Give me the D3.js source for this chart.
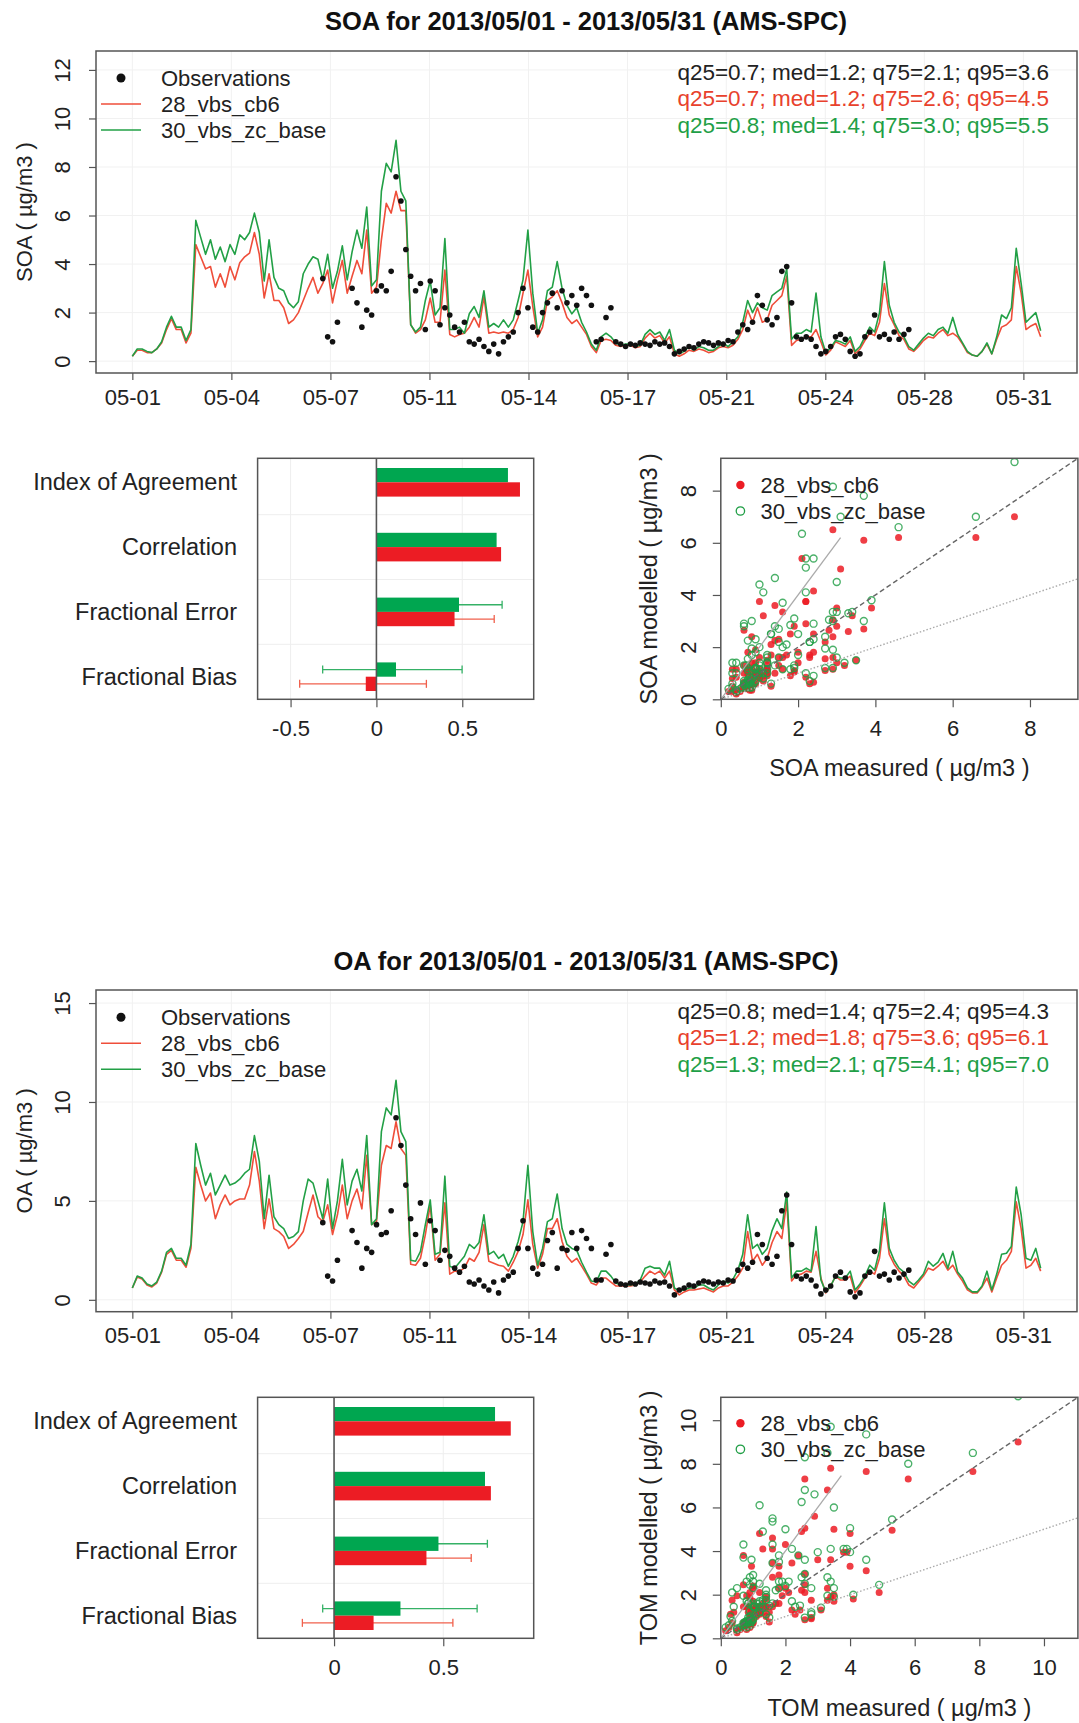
<!DOCTYPE html>
<html>
<head>
<meta charset="utf-8">
<script src="https://cdn.jsdelivr.net/npm/d3@7"></script>
<style>
  body { margin: 0; background: #fff; }
  svg { display: block; }
</style>
</head>
<body>
<script>
// ---- data -------------------------------------------------------------
// model and observation series on a 4-hourly grid starting 2013-05-01 00:00
const startTime = Date.UTC(2013, 4, 1);
const stepHours = 4;
const obsStartStep = 39;   // observations begin 2013-05-07 12:00

const seriesNames = ["28_vbs_cb6", "30_vbs_zc_base"];

const soaCb6 = [
  0.2,0.45,0.45,0.35,0.35,0.5, 0.75,1.3,1.75,1.3,1.3,0.75, 1.15,4.8,4.3,3.8,3.9,3.05,
  3.6,3.05,3.9,3.35,4.05,4.3, 4.45,5.3,4.4,2.6,3.6,2.5, 2.5,2.2,1.55,1.7,2.0,2.5,
  3.0,3.45,2.8,3.2,3.75,2.4, 3.35,4.15,2.8,3.5,4.15,3.6, 5.4,2.8,3.05,5.0,6.5,6.1,
  7.0,6.2,6.2,1.5,1.15,1.3, 1.7,2.6,1.6,1.6,3.75,1.1, 1.0,1.1,1.15,1.4,1.8,1.4,
  2.65,1.15,1.2,1.15,1.2,1.15, 1.3,1.8,2.8,3.75,2.25,1.0, 1.4,2.5,2.65,2.9,2.4,1.8,
  1.55,1.7,1.4,1.1,0.6,0.35, 0.85,0.9,0.85,0.65,0.6,0.65, 0.65,0.55,0.6,0.95,1.15,0.95,
  1.05,0.75,1.0,0.3,0.2,0.3, 0.45,0.4,0.5,0.45,0.35,0.4, 0.55,0.6,0.55,0.65,0.9,1.3,
  2.1,1.6,2.2,1.6,1.7,2.3, 2.5,2.7,3.5,0.65,0.85,0.9, 1.0,1.0,1.3,0.8,0.25,0.45,
  0.8,0.7,0.6,0.85,0.3,0.5, 0.85,1.15,1.05,1.6,3.2,1.9, 1.5,1.05,0.9,0.5,0.4,0.6,
  0.85,1.0,0.95,1.15,1.3,1.05, 1.15,1.0,0.7,0.35,0.25,0.2, 0.4,0.7,0.3,0.9,1.4,1.5,
  1.7,3.9,2.8,1.3,1.45,1.55, 1.0
];
const soaZc = [
  0.2,0.5,0.5,0.4,0.35,0.5, 0.8,1.4,1.85,1.4,1.4,0.85, 1.3,5.8,5.1,4.4,5.0,4.2,
  4.7,4.1,4.8,4.4,5.2,5.0, 5.3,6.1,5.3,3.3,5.0,3.45, 3.0,2.9,2.4,2.2,2.45,3.6,
  4.0,4.3,4.2,3.35,4.4,3.0, 3.7,4.75,3.35,4.5,5.4,4.65, 6.35,3.1,3.35,7.0,8.15,7.8,
  9.1,7.0,6.6,1.5,1.2,1.4, 2.5,3.3,1.9,2.2,5.05,1.3, 1.3,1.4,1.15,1.95,2.25,1.8,
  2.9,1.4,1.55,1.4,1.7,1.4, 1.7,2.5,3.35,5.4,2.8,1.15, 1.7,2.9,3.05,4.1,3.0,2.3,
  1.95,2.2,1.6,1.2,0.7,0.45, 1.0,1.15,1.0,0.75,0.65,0.7, 0.7,0.6,0.65,1.1,1.3,1.1,
  1.2,0.85,1.3,0.45,0.3,0.4, 0.6,0.45,0.6,0.55,0.45,0.45, 0.6,0.75,0.6,0.8,1.0,1.6,
  2.5,2.0,2.4,2.2,2.1,2.7, 2.85,3.0,3.8,0.9,1.15,1.15, 1.3,1.2,2.8,1.0,0.35,0.55,
  0.85,0.8,0.7,1.0,0.4,0.6, 1.0,1.4,1.2,2.0,4.1,2.3, 1.6,1.2,1.0,0.6,0.45,0.7,
  0.95,1.15,1.05,1.3,1.4,1.15, 1.8,1.1,0.75,0.4,0.25,0.2, 0.4,0.75,0.3,1.0,1.9,1.75,
  2.2,4.65,3.2,1.6,1.8,2.0, 1.25
];
const soaObs = [
  3.4,1.0,0.8,
  1.6,null,null,3.0,2.4,1.4, 2.1,1.9,2.9,3.1,2.9,3.7, 7.6,6.6,4.6,3.5,2.9,3.2,
  1.3,3.3,2.9,1.5,2.2,1.9, 1.4,1.2,1.6,0.8,0.7,0.9, 0.6,0.4,0.7,0.3,0.8,1.0,
  1.2,2.0,3.0,2.2,1.4,1.2, 2.0,2.4,2.8,2.2,2.9,2.4, 2.7,2.3,3.0,2.7,2.3,0.8,
  0.9,1.8,2.2,0.8,0.7,0.6, 0.7,0.65,0.75,0.7,0.65,0.8, 0.7,0.75,0.6,0.3,0.4,0.5,
  0.6,0.55,0.7,0.8,0.75,0.65, 0.75,0.7,0.85,0.8,1.2,1.5, 1.3,1.6,2.7,2.3,1.7,1.5,
  1.8,3.7,3.9,2.4,1.0,0.9, 1.0,0.9,0.6,0.3,0.4,0.6, 1.0,1.1,0.9,0.4,0.2,0.3,
  1.0,1.2,1.9,1.0,1.1,0.9, 1.2,0.9,1.1,1.3
];

const oaCb6 = [
  0.6,1.15,1.05,0.75,0.65,0.85, 1.4,2.3,2.5,2.0,2.0,1.65, 2.6,6.7,5.8,5.0,5.4,4.1,
  4.8,5.3,4.8,5.0,5.1,5.1, 5.8,7.5,6.0,3.6,5.1,3.6, 3.45,3.2,2.6,2.8,3.1,3.45,
  4.4,5.3,4.2,3.95,4.8,3.3, 4.3,5.8,4.1,5.0,5.6,4.6, 7.3,3.8,3.95,6.8,7.8,7.65,
  9.0,7.65,7.3,1.8,1.75,2.1, 3.3,4.8,2.0,2.3,4.9,1.3, 1.45,1.45,1.6,2.1,1.95,2.4,
  3.8,1.95,1.85,1.75,1.7,1.45, 1.9,2.45,3.3,5.05,2.8,1.6, 2.3,3.6,3.6,4.1,2.95,2.2,
  1.9,2.1,1.7,1.3,0.85,0.75, 1.1,1.1,0.9,0.7,0.7,0.7, 0.7,0.75,0.9,1.2,1.45,1.3,
  1.45,1.1,1.45,0.5,0.25,0.4, 0.5,0.5,0.55,0.6,0.5,0.4, 0.6,0.7,0.7,0.9,1.2,1.6,
  3.45,1.95,2.3,1.75,2.1,2.9, 3.45,3.1,4.95,0.95,1.25,1.3, 1.45,1.4,2.45,1.1,0.35,0.7,
  1.2,1.0,1.0,1.2,0.35,0.7, 1.1,1.45,1.3,2.1,4.1,2.3, 1.8,1.45,1.2,0.75,0.6,0.9,
  1.2,1.6,1.5,1.7,1.95,1.5, 1.75,1.3,0.95,0.5,0.35,0.35, 0.65,1.1,0.4,1.1,1.75,2.0,
  2.45,4.95,3.6,1.6,1.75,2.1, 1.45
];
const oaZc = [
  0.6,1.2,1.1,0.8,0.7,0.9, 1.45,2.4,2.6,2.1,2.1,1.75, 2.8,7.9,6.8,5.8,6.4,5.3,
  5.8,6.3,5.8,5.9,6.1,6.4, 6.6,8.3,7.0,4.1,6.3,4.2, 3.8,3.6,3.1,3.2,3.45,5.0,
  6.1,5.9,5.0,4.1,6.1,3.6, 5.0,7.1,4.8,6.0,6.6,5.5, 8.3,3.8,4.1,8.5,9.7,9.35,
  11.1,8.5,8.0,2.0,1.95,2.45, 3.8,5.05,2.3,2.4,6.25,1.7, 1.6,1.9,2.2,2.8,2.6,2.9,
  4.3,2.3,2.45,2.1,2.3,1.7, 2.2,2.95,3.95,6.8,3.45,1.75, 2.6,3.95,4.1,5.35,3.6,2.8,
  2.6,2.5,1.9,1.4,0.95,0.9, 1.45,1.45,1.2,0.85,0.75,0.75, 0.75,0.8,1.0,1.6,1.7,1.6,
  1.6,1.25,1.95,0.6,0.45,0.5, 0.6,0.6,0.75,0.75,0.6,0.5, 0.75,0.95,0.85,1.05,1.5,2.3,
  4.3,2.6,2.8,2.3,2.6,3.5, 4.1,3.6,5.45,1.1,1.45,1.45, 1.6,1.45,3.7,1.0,0.4,0.7,
  1.2,1.1,1.1,1.45,0.5,0.8, 1.2,1.75,1.5,2.5,4.9,2.6, 2.0,1.6,1.4,0.95,0.75,1.0,
  1.3,1.95,1.7,1.9,2.35,1.6, 2.45,1.4,1.1,0.6,0.4,0.4, 0.7,1.45,0.5,1.3,2.3,2.35,
  2.7,5.7,4.3,2.1,2.0,2.6, 1.6
];
const oaObs = [
  3.9,1.2,0.95,
  2.0,null,null,3.5,2.9,1.6, 2.6,2.4,3.8,3.3,3.4,4.5, 9.2,7.8,5.8,4.1,3.3,4.9,
  1.8,4.0,3.5,2.0,2.5,2.2, 1.6,1.4,1.7,0.9,0.8,1.0, 0.7,0.5,0.9,0.35,1.0,1.2,
  1.4,2.6,4.0,2.6,1.6,1.3, 1.8,3.0,3.4,1.6,2.6,2.5, 3.4,2.6,3.5,3.1,2.6,1.0,
  1.0,2.3,2.8,0.95,0.8,0.75, 0.85,0.8,0.9,0.85,0.8,0.95, 0.85,0.9,0.7,0.25,0.5,0.6,
  0.75,0.7,0.85,0.95,0.9,0.8, 0.9,0.85,1.0,0.95,1.5,1.8, 1.6,1.9,3.3,2.8,2.1,1.8,
  2.2,4.5,5.3,2.8,1.2,1.05, 1.2,1.0,0.7,0.3,0.5,0.7, 1.2,1.4,1.1,0.4,0.15,0.35,
  1.2,1.4,2.45,1.2,1.3,1.0, 1.4,1.1,1.3,1.5
];

const soaQuantiles = [
  "q25=0.7; med=1.2; q75=2.1; q95=3.6",
  "q25=0.7; med=1.2; q75=2.6; q95=4.5",
  "q25=0.8; med=1.4; q75=3.0; q95=5.5"
];
const oaQuantiles = [
  "q25=0.8; med=1.4; q75=2.4; q95=4.3",
  "q25=1.2; med=1.8; q75=3.6; q95=6.1",
  "q25=1.3; med=2.1; q75=4.1; q95=7.0"
];

const statCategories = ["Index of Agreement", "Correlation", "Fractional Error", "Fractional Bias"];
const soaStatCb6 = [0.836, 0.726, 0.455, -0.062];
const soaStatZc  = [0.766, 0.700, 0.481, 0.114];
const soaErrCb6  = [null, null, [0.224, 0.686], [-0.447, 0.291]];
const soaErrZc   = [null, null, [0.230, 0.732], [-0.313, 0.499]];
const oaStatCb6  = [0.809, 0.718, 0.423, 0.181];
const oaStatZc   = [0.737, 0.691, 0.478, 0.304];
const oaErrCb6   = [null, null, [0.218, 0.628], [-0.145, 0.544]];
const oaErrZc    = [null, null, [0.254, 0.702], [-0.052, 0.655]];

const timeTickDays   = [0, 3.38, 6.76, 10.14, 13.52, 16.9, 20.27, 23.65, 27.03, 30.41];
const timeTickLabels = ["05-01","05-04","05-07","05-11","05-14","05-17","05-21","05-24","05-28","05-31"];
const soaTicks = [0, 2, 4, 6, 8, 10, 12];
const oaTicks = [0, 5, 10, 15];
const soaBarTicks = [-0.5, 0, 0.5];
const oaBarTicks = [0, 0.5];
const soaScatterTicks = [0, 2, 4, 6, 8];
const oaScatterTicks = [0, 2, 4, 6, 8, 10];

// ---- drawing ----------------------------------------------------------
const W = 1079, H = 1723;
const FONT = "'Liberation Sans', Arial, Helvetica, sans-serif";
const textCol = "#222", boxCol = "#555";
const lineRed = "#ef4e3a", lineGreen = "#22a046";
const txtRed = "#e8412c", txtGreen = "#1f9f47";
const barRed = "#ec1c24", barGreen = "#00a650";
const whiskRed = "#f0604c", whiskGreen = "#35b166";
const DAY = 864e5;

const svg = d3.select("body").append("svg")
  .attr("width", W).attr("height", H)
  .attr("font-family", FONT);

function stepTime(i) { return new Date(startTime + i * stepHours * 3600e3); }

function styleAxis(g) {
  g.attr("font-family", FONT).attr("font-size", 22);
  g.select(".domain").remove();
  g.selectAll(".tick line").attr("stroke", boxCol).attr("stroke-width", 1.2);
  g.selectAll(".tick text").attr("fill", textCol);
}
function xAxisAt(g, axis, y, off) {
  g.append("g").attr("transform", `translate(0,${y})`).call(axis).call(styleAxis)
    .selectAll(".tick text").attr("y", off).attr("dy", 0);
}
function yAxisAt(g, axis, x, off) {
  g.append("g").attr("transform", `translate(${x},0)`).call(axis).call(styleAxis)
    .selectAll(".tick text")
    .attr("transform", "rotate(-90)").attr("x", 0).attr("y", -off).attr("dy", 0)
    .attr("text-anchor", "middle");
}
function frame(g, l, t, r, b) {
  g.append("rect").attr("x", l).attr("y", t).attr("width", r - l).attr("height", b - t)
    .attr("fill", "none").attr("stroke", boxCol).attr("stroke-width", 1.5);
}

// time series panel
function timePanel(o) {
  const g = svg.append("g");
  const L = 96, R = 1077;
  const x = d3.scaleUtc()
    .domain([new Date(startTime - 1.24 * DAY), new Date(startTime + 32.24 * DAY)])
    .range([L, R]);
  const y = d3.scaleLinear().domain(o.yDomain).range([o.bottom, o.top]);
  const tickDates = timeTickDays.map(d => new Date(startTime + d * DAY));

  g.append("text").attr("x", 586).attr("y", o.titleY).attr("text-anchor", "middle")
    .attr("font-size", 25.5).attr("font-weight", "bold").attr("fill", "#111").text(o.title);

  // faint grid
  g.append("g").selectAll("line").data(o.yTicks).join("line")
    .attr("x1", L).attr("x2", R).attr("y1", d => y(d)).attr("y2", d => y(d))
    .attr("stroke", "#f1f1f1");
  g.append("g").selectAll("line").data(tickDates).join("line")
    .attr("x1", d => x(d)).attr("x2", d => x(d)).attr("y1", o.top).attr("y2", o.bottom)
    .attr("stroke", "#f1f1f1");

  const line = d3.line().x((d, i) => x(stepTime(i))).y(d => y(d));
  g.append("path").datum(o.cb6).attr("d", line).attr("fill", "none")
    .attr("stroke", lineRed).attr("stroke-width", 1.6).attr("stroke-linejoin", "round");
  g.append("path").datum(o.zc).attr("d", line).attr("fill", "none")
    .attr("stroke", lineGreen).attr("stroke-width", 1.6).attr("stroke-linejoin", "round");

  const obs = o.obs.map((v, i) => ({ t: stepTime(obsStartStep + i), v })).filter(d => d.v != null);
  g.append("g").selectAll("circle").data(obs).join("circle")
    .attr("cx", d => x(d.t)).attr("cy", d => y(d.v)).attr("r", 2.8).attr("fill", "#111");

  frame(g, L, o.top, R, o.bottom);
  xAxisAt(g, d3.axisBottom(x).tickValues(tickDates).tickFormat((d, i) => timeTickLabels[i]).tickSize(7),
    o.bottom, o.xLabOff);
  yAxisAt(g, d3.axisLeft(y).tickValues(o.yTicks).tickSize(7), L, 26);

  g.append("text").attr("transform", `translate(32,${(o.top + o.bottom) / 2}) rotate(-90)`)
    .attr("text-anchor", "middle").attr("font-size", 22).attr("fill", textCol).text(o.yLabel);

  // legend
  const lg = g.append("g").attr("font-size", 22).attr("fill", textCol);
  lg.append("circle").attr("cx", 121).attr("cy", o.legY).attr("r", 4.5).attr("fill", "#111");
  lg.append("line").attr("x1", 101).attr("x2", 141).attr("y1", o.legY + 26).attr("y2", o.legY + 26)
    .attr("stroke", lineRed).attr("stroke-width", 1.6);
  lg.append("line").attr("x1", 101).attr("x2", 141).attr("y1", o.legY + 52).attr("y2", o.legY + 52)
    .attr("stroke", lineGreen).attr("stroke-width", 1.6);
  ["Observations"].concat(seriesNames).forEach((s, i) => {
    lg.append("text").attr("x", 161).attr("y", o.legY + 7.7 + 26 * i).text(s);
  });
  const cols = [textCol, txtRed, txtGreen];
  o.quant.forEach((s, i) => {
    g.append("text").attr("x", 1049).attr("y", o.quantY + 26.5 * i).attr("text-anchor", "end")
      .attr("font-size", 22.5).attr("fill", cols[i]).text(s);
  });
}

// statistics bar panel
function barPanel(o) {
  const g = svg.append("g");
  const L = 257.6, R = 533.7;
  const x = d3.scaleLinear().domain(o.xDomain).range([L, R]);
  const y = d3.scalePoint().domain(statCategories).range([o.top + 24, o.bottom - 22.6]);
  const bh = 14.3;

  // faint grid
  g.append("g").selectAll("line").data(o.ticks.filter(t => t !== 0)).join("line")
    .attr("x1", d => x(d)).attr("x2", d => x(d)).attr("y1", o.top).attr("y2", o.bottom)
    .attr("stroke", "#eeeeee");
  g.append("g").selectAll("line").data(statCategories.slice(1)).join("line")
    .attr("x1", L).attr("x2", R).attr("y1", d => y(d) - y.step() / 2).attr("y2", d => y(d) - y.step() / 2)
    .attr("stroke", "#eeeeee");

  const sets = [
    { vals: o.zc, err: o.errZc, dy: -bh, fill: barGreen, wc: whiskGreen },
    { vals: o.cb6, err: o.errCb6, dy: 0, fill: barRed, wc: whiskRed }
  ];
  sets.forEach(s => {
    statCategories.forEach((c, i) => {
      const e = s.err[i];
      if (!e) return;
      const cy = y(c) + s.dy + bh / 2;
      g.append("line").attr("x1", x(e[0])).attr("x2", x(e[1])).attr("y1", cy).attr("y2", cy)
        .attr("stroke", s.wc).attr("stroke-width", 1.3);
      e.forEach(v => g.append("line").attr("x1", x(v)).attr("x2", x(v))
        .attr("y1", cy - 4).attr("y2", cy + 4).attr("stroke", s.wc).attr("stroke-width", 1.3));
    });
  });
  sets.forEach(s => {
    g.append("g").selectAll("rect").data(s.vals).join("rect")
      .attr("x", d => x(Math.min(0, d))).attr("width", d => Math.abs(x(d) - x(0)))
      .attr("y", (d, i) => y(statCategories[i]) + s.dy).attr("height", bh)
      .attr("fill", s.fill);
  });

  g.append("line").attr("x1", x(0)).attr("x2", x(0)).attr("y1", o.top).attr("y2", o.bottom)
    .attr("stroke", boxCol).attr("stroke-width", 1.6);
  frame(g, L, o.top, R, o.bottom);
  xAxisAt(g, d3.axisBottom(x).tickValues(o.ticks).tickFormat(d => String(d)).tickSize(8),
    o.bottom, 37);

  g.append("g").selectAll("text").data(statCategories).join("text")
    .attr("x", 237).attr("y", d => y(d) + 8).attr("text-anchor", "end")
    .attr("font-size", 23.5).attr("fill", textCol).text(d => d);
}

// scatter panel
function scatterPanel(o) {
  const g = svg.append("g");
  const L = 720.8, R = 1077.9;
  const x = d3.scaleLinear().domain([0, o.max]).range([L, R]);
  const y = d3.scaleLinear().domain([0, o.max]).range([o.bottom, o.top]);
  const clipId = "clip" + o.id;
  svg.append("clipPath").attr("id", clipId).append("rect")
    .attr("x", L).attr("y", o.top).attr("width", R - L).attr("height", o.bottom - o.top);

  const pairs = model => o.obs.map((v, i) => [v, model[obsStartStep + i]]).filter(p => p[0] != null);
  const pts = g.append("g").attr("clip-path", `url(#${clipId})`);
  pts.append("g").selectAll("circle").data(pairs(o.cb6)).join("circle")
    .attr("cx", d => x(d[0])).attr("cy", d => y(d[1])).attr("r", 3.5)
    .attr("fill", barRed).attr("fill-opacity", 0.85);
  pts.append("g").selectAll("circle").data(pairs(o.zc)).join("circle")
    .attr("cx", d => x(d[0])).attr("cy", d => y(d[1])).attr("r", 3.5)
    .attr("fill", "none").attr("stroke", "#1f9e45").attr("stroke-width", 1.4).attr("stroke-opacity", 0.8);

  pts.append("line").attr("x1", x(0)).attr("y1", y(0)).attr("x2", x(o.max)).attr("y2", y(o.max))
    .attr("stroke", "#666").attr("stroke-width", 1.4).attr("stroke-dasharray", "5,3");
  pts.append("line").attr("x1", x(0)).attr("y1", y(0)).attr("x2", x(o.lineEnd)).attr("y2", y(2 * o.lineEnd))
    .attr("stroke", "#aaa").attr("stroke-width", 1.3);
  pts.append("line").attr("x1", x(0)).attr("y1", y(0)).attr("x2", x(o.max)).attr("y2", y(o.max / 2))
    .attr("stroke", "#aaa").attr("stroke-width", 1.4).attr("stroke-dasharray", "1.5,2");

  frame(g, L, o.top, R, o.bottom);
  xAxisAt(g, d3.axisBottom(x).tickValues(o.ticks).tickSize(8), o.bottom, 37);
  yAxisAt(g, d3.axisLeft(y).tickValues(o.ticks).tickSize(8), L, 25);

  g.append("text").attr("x", (L + R) / 2).attr("y", o.xLabY).attr("text-anchor", "middle")
    .attr("font-size", 23.5).attr("fill", textCol).text(o.xLabel);
  g.append("text").attr("transform", `translate(657,${(o.top + o.bottom) / 2}) rotate(-90)`)
    .attr("text-anchor", "middle").attr("font-size", 23.5).attr("fill", textCol).text(o.yLabel);

  g.append("circle").attr("cx", 740.4).attr("cy", o.legY).attr("r", 4.2).attr("fill", barRed);
  g.append("circle").attr("cx", 740.4).attr("cy", o.legY + 26).attr("r", 4.2)
    .attr("fill", "none").attr("stroke", "#1f9e45").attr("stroke-width", 1.3);
  seriesNames.forEach((s, i) => g.append("text").attr("x", 760.4).attr("y", o.legY + 7.7 + 26 * i)
    .attr("font-size", 22).attr("fill", textCol).text(s));
}

timePanel({
  title: "SOA for 2013/05/01 - 2013/05/31 (AMS-SPC)", titleY: 30,
  top: 51, bottom: 373, yDomain: [-0.49, 12.78], yTicks: soaTicks, xLabOff: 32,
  yLabel: "SOA ( µg/m3 )", cb6: soaCb6, zc: soaZc, obs: soaObs,
  legY: 78, quant: soaQuantiles, quantY: 79.5
});
barPanel({
  top: 458.3, bottom: 699.3, xDomain: [-0.692, 0.916], ticks: soaBarTicks,
  cb6: soaStatCb6, zc: soaStatZc, errCb6: soaErrCb6, errZc: soaErrZc
});
scatterPanel({
  id: "soa", top: 458.3, bottom: 699.3, max: 9.24, ticks: soaScatterTicks, lineEnd: 3.1,
  obs: soaObs, cb6: soaCb6, zc: soaZc, legY: 485, xLabY: 776,
  xLabel: "SOA measured ( µg/m3 )", yLabel: "SOA modelled ( µg/m3 )"
});

timePanel({
  title: "OA for 2013/05/01 - 2013/05/31 (AMS-SPC)", titleY: 970,
  top: 990, bottom: 1311.7, yDomain: [-0.6, 15.66], yTicks: oaTicks, xLabOff: 31,
  yLabel: "OA ( µg/m3 )", cb6: oaCb6, zc: oaZc, obs: oaObs,
  legY: 1017.3, quant: oaQuantiles, quantY: 1018.5
});
barPanel({
  top: 1397.3, bottom: 1638.3, xDomain: [-0.35, 0.914], ticks: oaBarTicks,
  cb6: oaStatCb6, zc: oaStatZc, errCb6: oaErrCb6, errZc: oaErrZc
});
scatterPanel({
  id: "oa", top: 1397.3, bottom: 1638.3, max: 11.05, ticks: oaScatterTicks, lineEnd: 3.73,
  obs: oaObs, cb6: oaCb6, zc: oaZc, legY: 1423.3, xLabY: 1716,
  xLabel: "TOM measured ( µg/m3 )", yLabel: "TOM modelled ( µg/m3 )"
});
</script>
</body>
</html>
